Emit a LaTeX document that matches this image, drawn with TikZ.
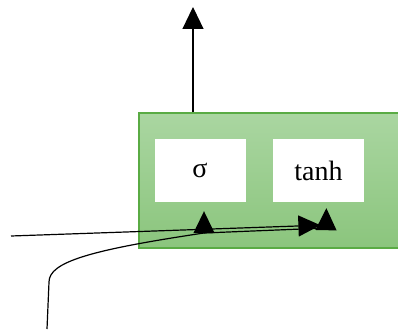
\documentclass[tikz,border=0pt]{standalone}
\usepackage{fontspec}
\setmainfont{Liberation Serif}
\usetikzlibrary{positioning,arrows.meta}

\definecolor{cellborder}{HTML}{5AAB44}
\definecolor{celltop}{HTML}{AAD6A1}
\definecolor{cellbottom}{HTML}{8BC57D}

\begin{document}
\begin{tikzpicture}[
  x=1pt, y=-1pt,
  font=\fontsize{28}{32}\selectfont,
  cell/.style={
    draw=cellborder,
    line width=1.3pt,
    top color=celltop,
    bottom color=cellbottom,
    minimum width=266pt,
    minimum height=135pt,
    inner sep=0pt
  },
  gate/.style={
    fill=white,
    minimum width=91pt,
    minimum height=63pt,
    inner sep=0pt
  },
  arrow/.style={-{Triangle[length=22pt,width=21pt]}, line width=1.2pt}
]
\useasboundingbox (0,0) rectangle (398,329);
\clip (0,0) rectangle (398,329);

\node[cell] (cell) at (272,180.5) {};

\node[gate] (sig) at (200,170.5) {σ};
\node[gate, right=27pt of sig] (tanh) {tanh};

% free ends of the wires
\coordinate (out) at (193,7);
\coordinate (xin) at (11,236);
\coordinate (hin) at (47,329);
\coordinate (bend) at (204,233);

\draw[arrow] (out |- cell.north) -- (out);

\draw[arrow] (hin) -- (49,282) .. controls (49,262) and (90,250) .. (bend)
  -- ([xshift=4pt,yshift=-9pt]sig.south);
\draw[arrow] (bend) -- (326,228) -- ([xshift=8pt,yshift=-6pt]tanh.south);
\draw[arrow] (xin) -- ([xshift=2pt,yshift=-23pt]tanh.south);

\end{tikzpicture}
\end{document}
